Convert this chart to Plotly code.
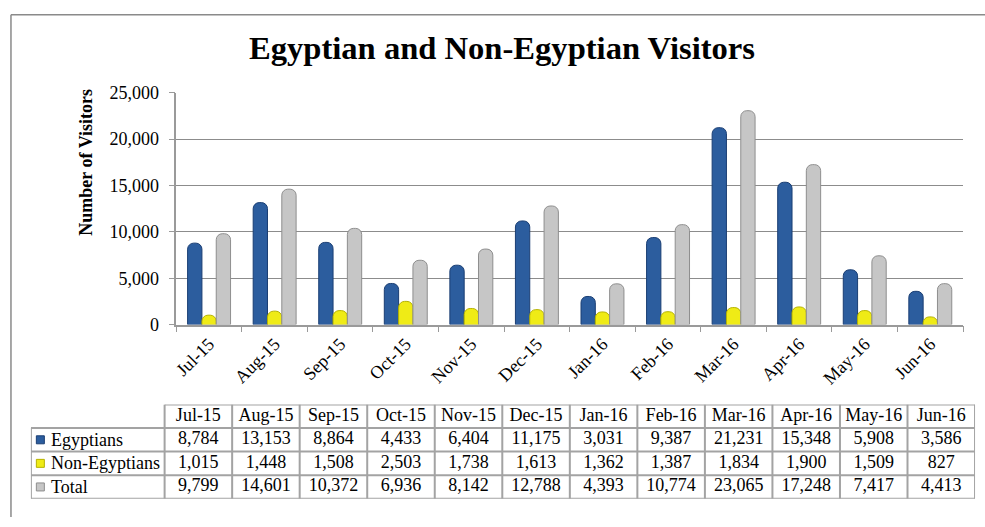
import plotly.graph_objects as go

months = ["Jul-15", "Aug-15", "Sep-15", "Oct-15", "Nov-15", "Dec-15",
          "Jan-16", "Feb-16", "Mar-16", "Apr-16", "May-16", "Jun-16"]
egyptians = [8784, 13153, 8864, 4433, 6404, 11175, 3031, 9387, 21231, 15348, 5908, 3586]
non_egyptians = [1015, 1448, 1508, 2503, 1738, 1613, 1362, 1387, 1834, 1900, 1509, 827]
total = [9799, 14601, 10372, 6936, 8142, 12788, 4393, 10774, 23065, 17248, 7417, 4413]
series_names = ["Egyptians", "Non-Egyptians", "Total"]
y_ticks = [0, 5000, 10000, 15000, 20000, 25000]

W, H = 985, 527
SERIF = "Liberation Serif, Times New Roman, serif"
colors = ["#2C5D9E", "#EFEB16", "#C6C6C6"]
edge = ["#1A3E73", "#B5B200", "#8E8E8E"]
series = [egyptians, non_egyptians, total]

def px_x(p):
    return p / W

def px_y(p):
    return (H - p) / H

fig = go.Figure()

for name, vals, c, e in zip(series_names, series, colors, edge):
    fig.add_trace(go.Bar(
        x=months, y=vals, name=name,
        marker=dict(color=c, line=dict(color=e, width=1), cornerradius=6),
        xaxis="x", yaxis="y", showlegend=False,
    ))

# ---- data table (second axis pair) ----
TFONT = dict(family=SERIF, size=18, color="black")
col_idx = list(range(len(months)))
fig.add_trace(go.Scatter(
    x=col_idx, y=[0] * len(months), mode="text", text=months, textfont=TFONT,
    xaxis="x2", yaxis="y2", showlegend=False, hoverinfo="skip",
))
for r, vals in enumerate(series, start=1):
    fig.add_trace(go.Scatter(
        x=col_idx, y=[r] * len(vals), mode="text",
        text=[f"{v:,}" for v in vals], textfont=TFONT,
        xaxis="x2", yaxis="y2", showlegend=False, hoverinfo="skip",
    ))
XL = -2.48
fig.add_trace(go.Scatter(
    x=[XL + 0.14] * 3, y=[1, 2, 3], mode="markers",
    marker=dict(symbol="square", size=8, color=colors, line=dict(color=edge, width=1)),
    xaxis="x2", yaxis="y2", showlegend=False, hoverinfo="skip",
))

annotations = []
for r, name in enumerate(series_names, start=1):
    annotations.append(dict(
        x=XL + 0.27, y=r, xref="x2", yref="y2", text=name, showarrow=False,
        xanchor="left", yanchor="middle", font=TFONT,
    ))

shapes = []
line_style = dict(color="#A3A3A3", width=2)
n = len(months)
for i in range(n + 1):
    shapes.append(dict(type="line", xref="x2", yref="y2",
                       x0=i - 0.5, x1=i - 0.5, y0=-0.5, y1=3.5, line=line_style))
shapes.append(dict(type="line", xref="x2", yref="y2",
                   x0=XL, x1=XL, y0=0.5, y1=3.5, line=line_style))
shapes.append(dict(type="line", xref="x2", yref="y2",
                   x0=-0.5, x1=n - 0.5, y0=-0.5, y1=-0.5, line=line_style))
for r in range(4):
    shapes.append(dict(type="line", xref="x2", yref="y2",
                       x0=XL, x1=n - 0.5, y0=r + 0.5, y1=r + 0.5, line=line_style))

# outer frame (top and left)
frame = dict(color="#8A8A8A", width=1.5)
shapes.append(dict(type="line", xref="paper", yref="paper",
                   x0=px_x(7), x1=1.0, y0=px_y(5), y1=px_y(5), line=frame))
shapes.append(dict(type="line", xref="paper", yref="paper",
                   x0=px_x(7), x1=px_x(7), y0=0, y1=px_y(5), line=frame))

annotations.append(dict(
    x=px_x(500), y=px_y(40), xref="paper", yref="paper",
    text="<b>Egyptian and Non-Egyptian Visitors</b>", showarrow=False,
    xanchor="center", yanchor="middle",
    font=dict(family=SERIF, size=32.6, color="black"),
))
annotations.append(dict(
    x=px_x(82), y=px_y(158), xref="paper", yref="paper",
    text="<b>Number of Visitors</b>", showarrow=False, textangle=-90,
    xanchor="center", yanchor="middle",
    font=dict(family=SERIF, size=18, color="black"),
))

fig.update_layout(
    width=W, height=H,
    margin=dict(l=0, r=0, t=0, b=0),
    paper_bgcolor="white", plot_bgcolor="white",
    barmode="group", bargap=0.345, bargroupgap=0.0,
    font=dict(family=SERIF, color="black"),
    xaxis=dict(
        domain=[px_x(173), px_x(963)], anchor="y",
        tickangle=-45, tickfont=dict(family=SERIF, size=18),
        showline=True, linecolor="#9A9A9A", linewidth=1.5,
        ticks="outside", ticklen=6, tickcolor="#9A9A9A", tickson="boundaries",
        showgrid=False, zeroline=False,
    ),
    yaxis=dict(
        domain=[px_y(327), px_y(86)], anchor="x",
        range=[0, 25000], tickvals=y_ticks,
        ticktext=[f"{v:,}" for v in y_ticks],
        tickfont=dict(family=SERIF, size=18), ticklabelstandoff=6,
        showline=True, linecolor="#9A9A9A", linewidth=1.5,
        ticks="outside", ticklen=6, tickcolor="#9A9A9A",
        showgrid=True, gridcolor="#8C8C8C", gridwidth=1,
        zeroline=False,
    ),
    xaxis2=dict(
        domain=[px_x(27), px_x(975)], anchor="y2",
        range=[XL, n - 0.5], visible=False, fixedrange=True,
    ),
    yaxis2=dict(
        domain=[px_y(508), px_y(410)], anchor="x2",
        range=[3.5, -0.5], visible=False, fixedrange=True,
    ),
    shapes=shapes,
    annotations=annotations,
)

fig.write_html(
    "out.html",
    config={"displayModeBar": False},
    post_script="document.body.style.margin='0';document.body.style.overflow='hidden';",
)
